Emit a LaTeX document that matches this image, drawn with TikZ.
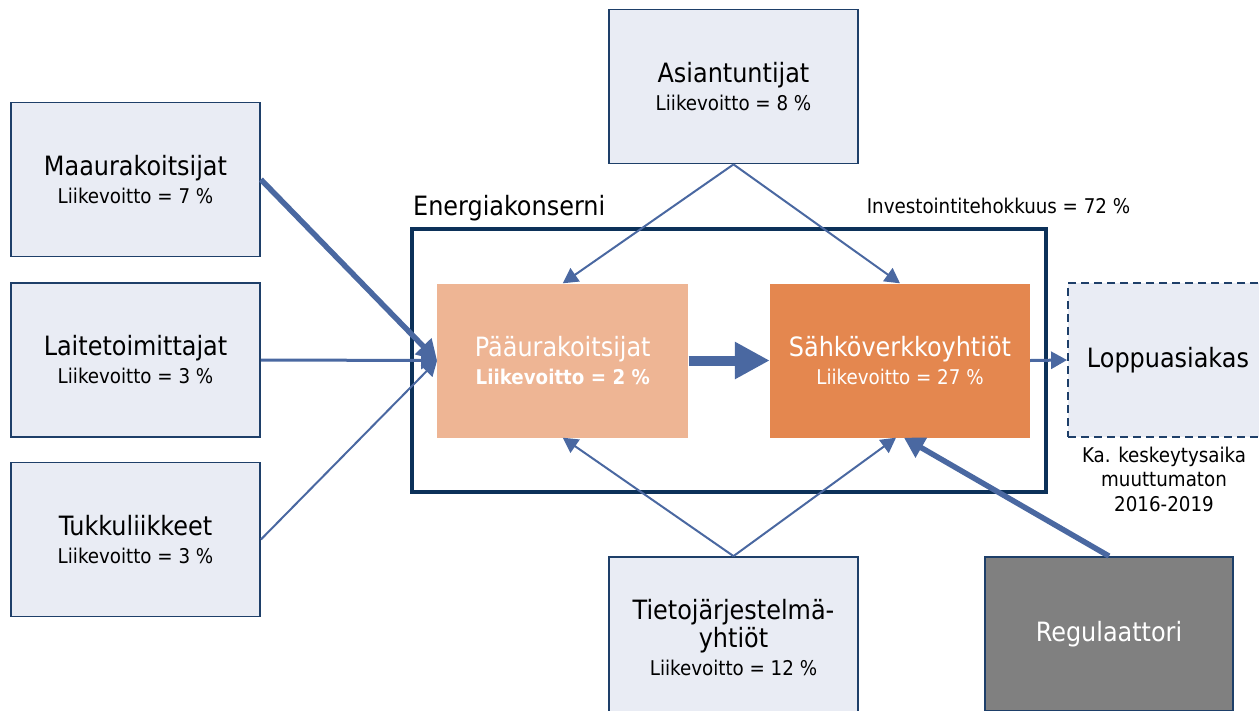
\documentclass[tikz,border=0pt]{standalone}
\usepackage{fontspec}
\setmainfont{DejaVu Sans Condensed}
\usetikzlibrary{arrows.meta}
\definecolor{boxfill}{HTML}{E9ECF4}
\definecolor{boxline}{HTML}{1E3F69}
\definecolor{groupline}{HTML}{0C3159}
\definecolor{flow}{HTML}{4A68A1}
\definecolor{paafill}{HTML}{EEB594}
\definecolor{sahfill}{HTML}{E4874F}
\definecolor{regfill}{HTML}{808080}
\newcommand\ttl[1]{{\fontsize{26.6}{28}\selectfont #1}}

\begin{document}
\begin{tikzpicture}[x=1pt,y=-1pt,
  party/.style={draw=boxline, line width=1.8pt, fill=boxfill,
    minimum width=249pt, minimum height=154pt, inner sep=0pt,
    align=center, font=\fontsize{20.3}{28}\selectfont},
  core/.style={minimum height=154pt, inner sep=0pt, align=center,
    text=white, font=\fontsize{20.3}{28}\selectfont},
  note/.style={inner sep=0pt, align=center, font=\fontsize{20.3}{24.5}\selectfont},
  thinflow/.style={draw=flow, line width=2pt, -{Triangle[length=15pt,width=16pt]}},
  midflow/.style={draw=flow, line width=3pt, -{Triangle[length=16pt,width=17pt]}},
  heavyflow/.style={draw=flow, line width=5.5pt, -{Triangle[length=20pt,width=22pt]}},
  blockflow/.style={draw=flow, line width=10pt, -{Triangle[length=35pt,width=35pt]}}
]
\useasboundingbox (0,0) rectangle (1259,710);
\clip (0,0) rectangle (1259,710);

% group frame
\node[draw=groupline, line width=3.6pt, minimum width=634pt, minimum height=263pt,
      inner sep=0pt] (grp) at (729,360.6) {};
\node[anchor=base west, inner sep=0pt, font=\fontsize{26.6}{28}\selectfont]
      (grplabel) at (413,215) {Energiakonserni};
\node[note] (inv) at (998.5,206) {Investointitehokkuus = 72 \%};

% suppliers
\node[party] (maa) at (135.5,179.5) {\ttl{Maaurakoitsijat}\\Liikevoitto = 7 \%};
\node[party] (lai) at (135.5,360) {\ttl{Laitetoimittajat}\\Liikevoitto = 3 \%};
\node[party] (tuk) at (135.5,539.5) {\ttl{Tukkuliikkeet}\\Liikevoitto = 3 \%};
\node[party] (asi) at (733.5,86.5) {\ttl{Asiantuntijat}\\Liikevoitto = 8 \%};
\node[party, minimum height=161pt] (tie) at (733.5,637.5)
      {\ttl{Tietojärjestelmä-}\\\ttl{yhtiöt}\\Liikevoitto = 12 \%};
\node[party, fill=regfill, minimum width=248pt, text=white] (reg) at (1109,634)
      {\ttl{Regulaattori}};

% group members
\node[core, fill=paafill, minimum width=251pt] (paa) at (562.8,360.5)
      {\ttl{Pääurakoitsijat}\\\textbf{Liikevoitto = 2 \%}};
\node[core, fill=sahfill, minimum width=260pt] (sah) at (900,360.5)
      {\ttl{Sähköverkkoyhtiöt}\\Liikevoitto = 27 \%};

% end customer
\node[party, dashed, dash pattern=on 8pt off 5pt, line width=1.8pt,
      minimum width=200pt] (lop) at (1168,360) {\ttl{Loppuasiakas}};
\node[note] (ka) at (1164,479) {Ka. keskeytysaika\\muuttumaton\\2016-2019};

% flows
\draw[heavyflow] (maa.east) -- (paa.west);
\draw[midflow] (lai.east) -- (paa.west);
\draw[thinflow] (tuk.east) -- (paa.west);
\draw[thinflow] (asi.south) -- (paa.north);
\draw[thinflow] (asi.south) -- (sah.north);
\draw[thinflow] (tie.north) -- (paa.south);
\draw[thinflow] (tie.north) -- ([xshift=-4pt]sah.south);
\draw[heavyflow] (reg.north) -- ([xshift=4pt]sah.south);
\draw[blockflow] (paa.east) -- (sah.west);
\draw[midflow] (sah.east) -- (lop.west);
\end{tikzpicture}
\end{document}
